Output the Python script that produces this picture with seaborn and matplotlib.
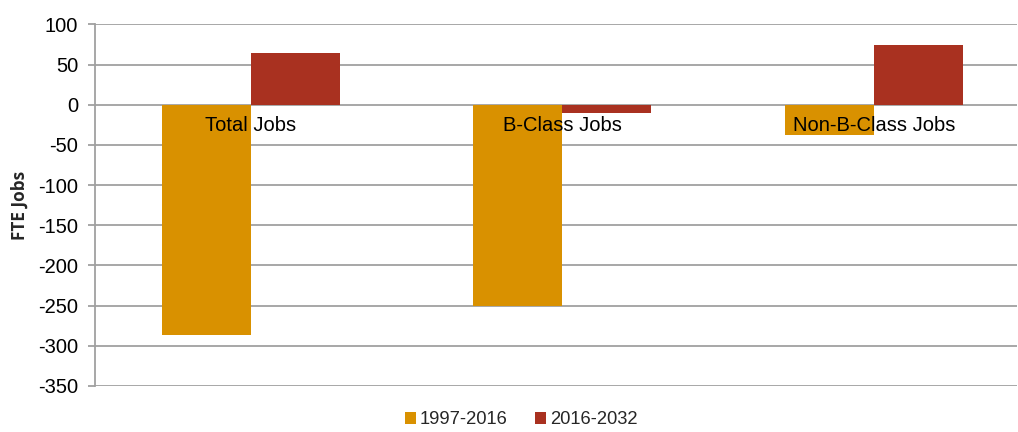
import matplotlib
matplotlib.use("Agg")
import matplotlib.pyplot as plt
import seaborn as sns
import pandas as pd
from matplotlib.patches import Patch

categories = ["Total Jobs", "B-Class Jobs", "Non-B-Class Jobs"]
series_names = ["1997-2016", "2016-2032"]
values_1997_2016 = [-287, -250, -37]
values_2016_2032 = [65, -10, 75]
colors = ["#D99100", "#A93120"]
yticks = [100, 50, 0, -50, -100, -150, -200, -250, -300, -350]

df = pd.DataFrame({
    "Category": categories * 2,
    "Period": [series_names[0]] * 3 + [series_names[1]] * 3,
    "Value": values_1997_2016 + values_2016_2032,
})

sns.set_theme(style="white")
plt.rcParams["font.family"] = ["Liberation Sans", "DejaVu Sans"]
plt.rcParams["axes.unicode_minus"] = False

fig = plt.figure(figsize=(10.18, 4.32), dpi=100)
ax = fig.add_axes([0.0933, 0.1065, 0.9057, 0.8368])

sns.barplot(data=df, x="Category", y="Value", hue="Period", order=categories,
            hue_order=series_names, palette=colors, width=0.572, saturation=1,
            ax=ax, legend=False, edgecolor="none", zorder=3)

ax.set_ylim(-350, 100)
ax.set_yticks(yticks)
ax.set_xlim(-0.5, 2.459)
ax.yaxis.grid(True, color="#A0A0A0", linewidth=1.3, zorder=0)
ax.set_axisbelow(True)
for s in ["top", "right", "bottom"]:
    ax.spines[s].set_visible(False)
ax.spines["left"].set_color("#A0A0A0")
ax.spines["left"].set_linewidth(1.3)
ax.tick_params(axis="y", which="major", left=True, length=5, width=1.3,
               color="#A0A0A0", labelsize=14.5, labelcolor="#000000", pad=7)
ax.set_xticks([])
ax.set_xlabel("")
ax.set_ylabel("FTE Jobs", fontsize=12.3, fontweight="bold",
              family=["Open Sans", "DejaVu Sans"], labelpad=7)

for i, c in enumerate(categories):
    ax.annotate(c, xy=(i, 0), xytext=(0, -8), textcoords="offset points",
                ha="center", va="top", fontsize=14.5, color="#000000", zorder=5)

handles = [Patch(facecolor=col, edgecolor="none") for col in colors]
fig.legend(handles, series_names, loc="lower center", bbox_to_anchor=(0.512, -0.03),
           ncol=2, frameon=False, fontsize=13.2, handlelength=0.6, handleheight=0.6,
           handletextpad=0.2, columnspacing=1.5)

fig.savefig("out.png", dpi=100)
